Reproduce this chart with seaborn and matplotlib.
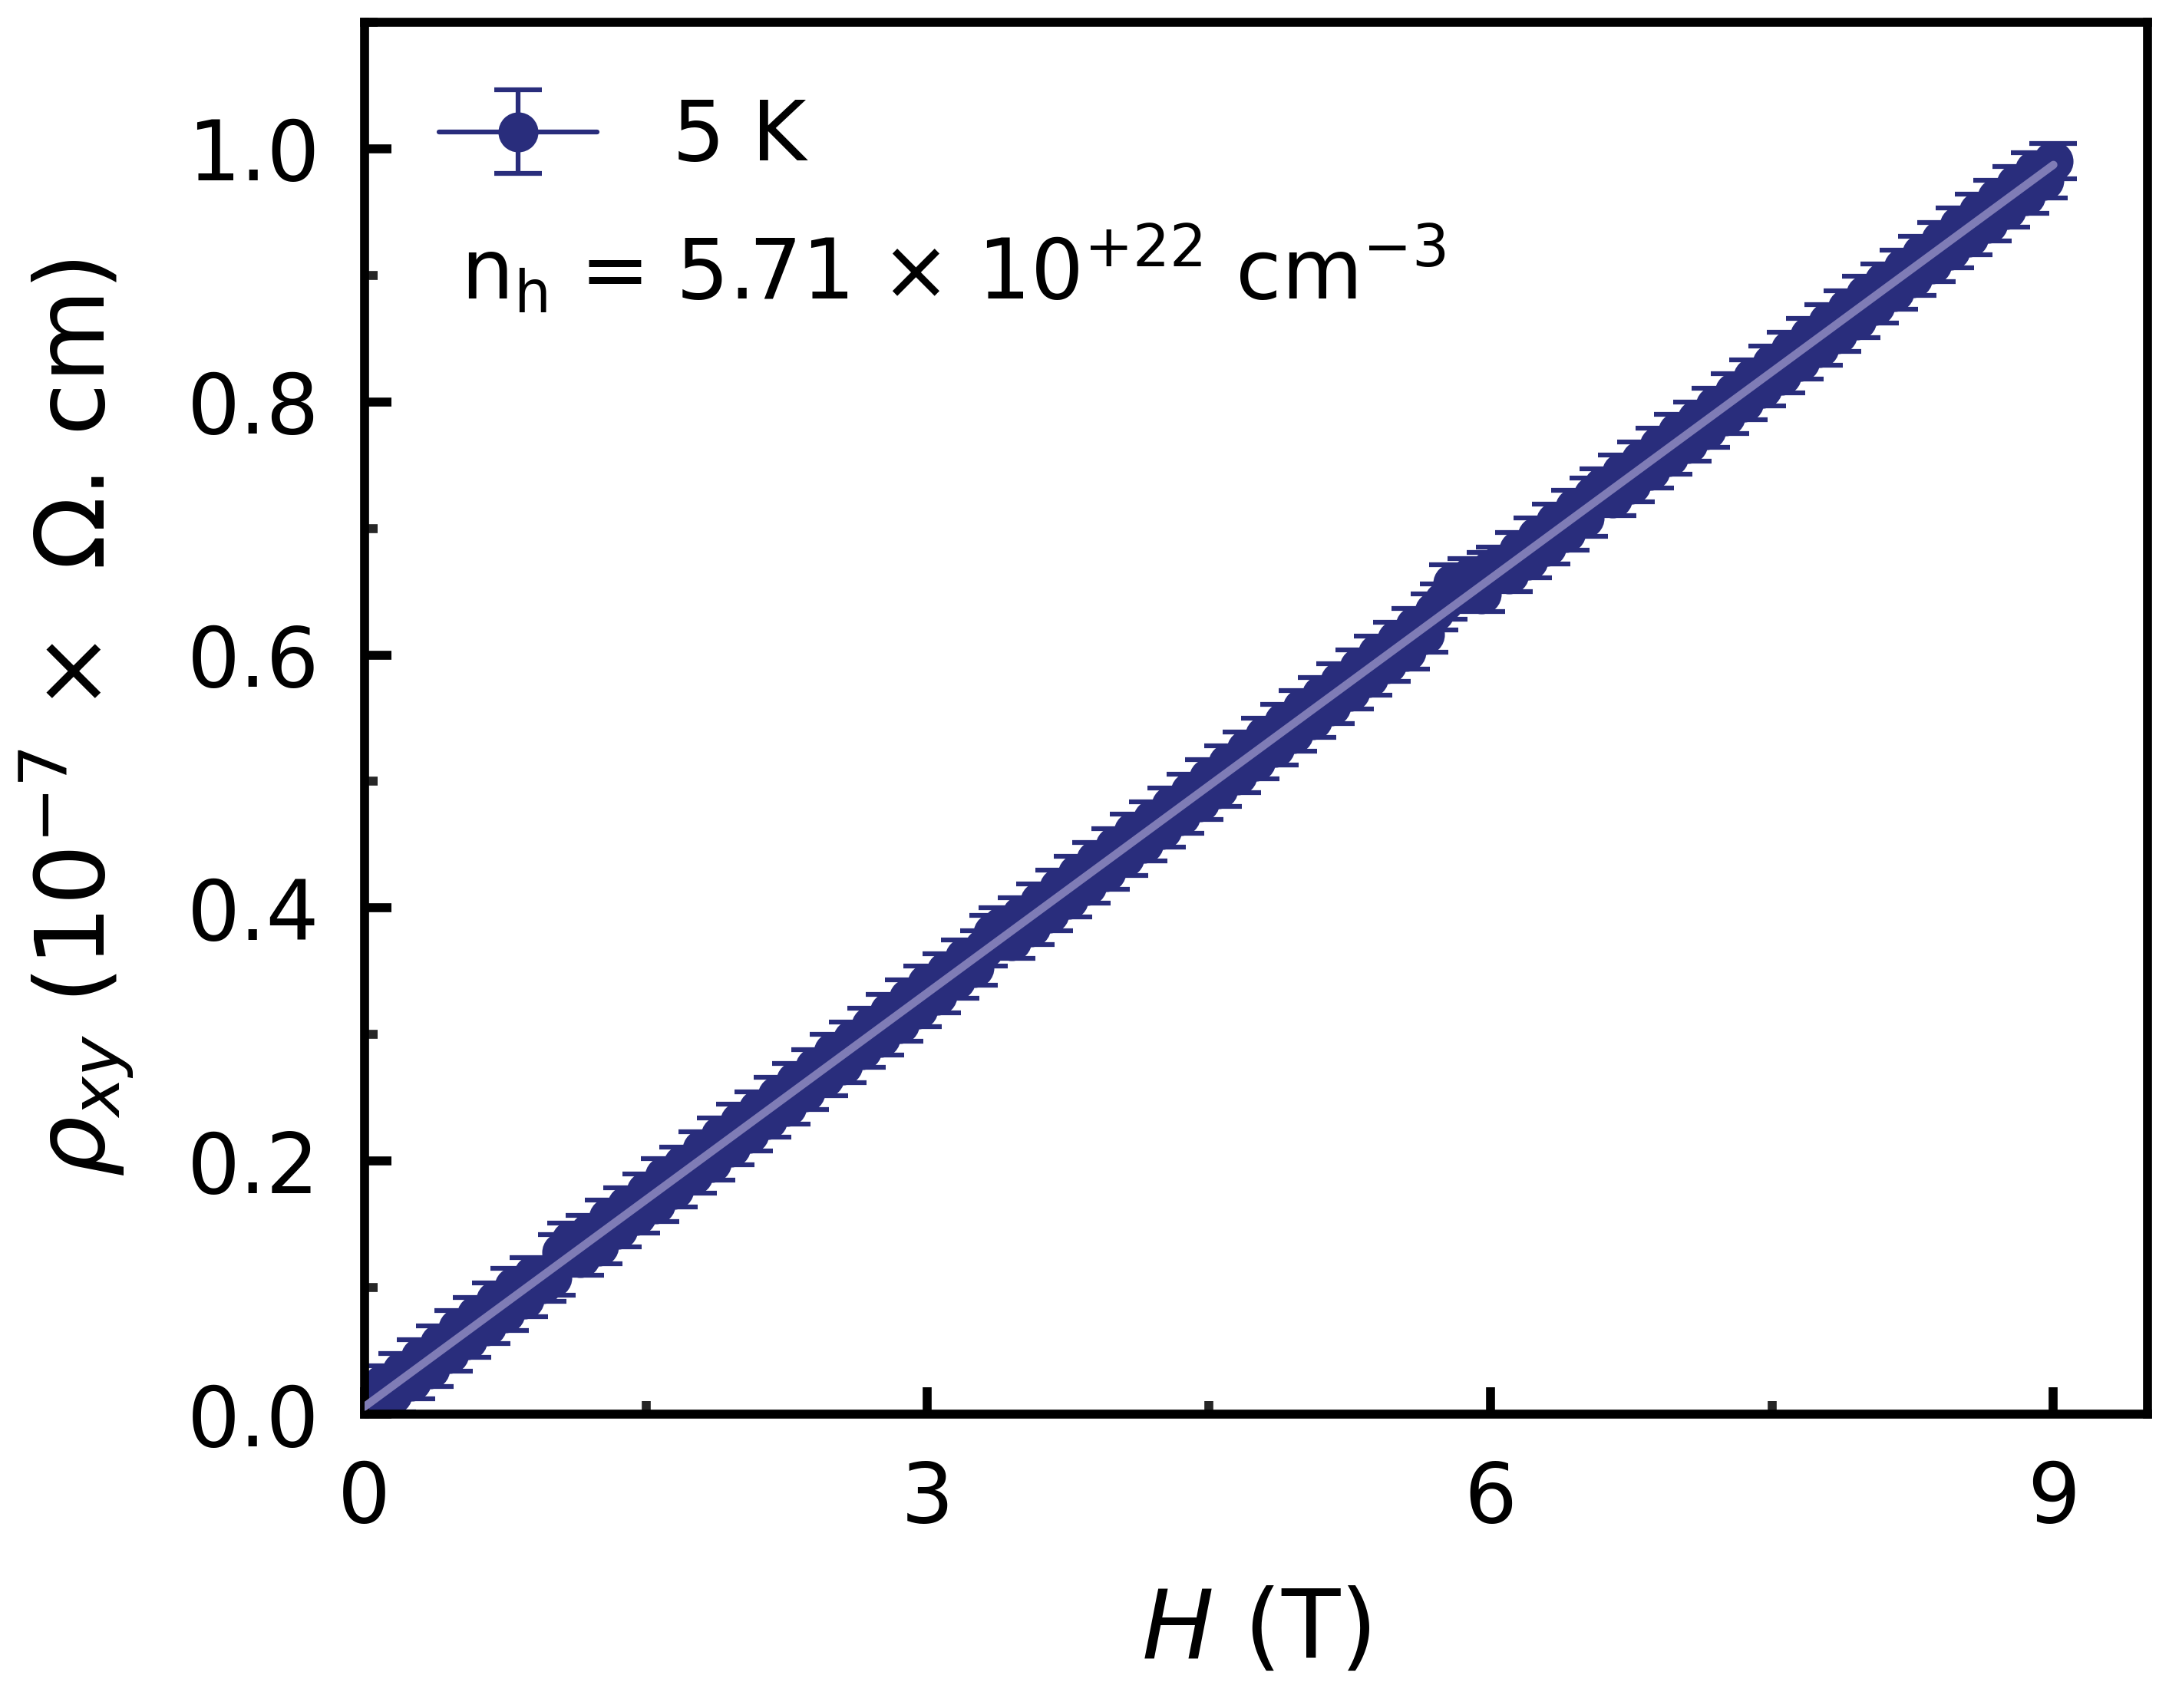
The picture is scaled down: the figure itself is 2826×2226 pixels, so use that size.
import numpy as np
import pandas as pd
import matplotlib
matplotlib.use("Agg")
import matplotlib.pyplot as plt
import seaborn as sns
from matplotlib.ticker import MultipleLocator

# ---- data ----
field_T = [0.00, 0.05, 0.10, 0.15, 0.20, 0.25, 0.30, 0.35, 0.40, 0.45,
           0.50, 0.55, 0.60, 0.65, 0.70, 0.75, 0.80, 0.85, 0.90, 0.95,
           1.00, 1.05, 1.10, 1.15, 1.20, 1.25, 1.30, 1.35, 1.40, 1.45,
           1.50, 1.55, 1.60, 1.65, 1.70, 1.75, 1.80, 1.85, 1.90, 1.95,
           2.00, 2.05, 2.10, 2.15, 2.20, 2.25, 2.30, 2.35, 2.40, 2.45,
           2.50, 2.55, 2.60, 2.65, 2.70, 2.75, 2.80, 2.85, 2.90, 2.95,
           3.00, 3.05, 3.10, 3.15, 3.20, 3.25, 3.30, 3.35, 3.40, 3.45,
           3.50, 3.55, 3.60, 3.65, 3.70, 3.75, 3.80, 3.85, 3.90, 3.95,
           4.00, 4.05, 4.10, 4.15, 4.20, 4.25, 4.30, 4.35, 4.40, 4.45,
           4.50, 4.55, 4.60, 4.65, 4.70, 4.75, 4.80, 4.85, 4.90, 4.95,
           5.00, 5.05, 5.10, 5.15, 5.20, 5.25, 5.30, 5.35, 5.40, 5.45,
           5.50, 5.55, 5.60, 5.65, 5.70, 5.75, 5.80, 5.85, 5.90, 5.95,
           6.00, 6.05, 6.10, 6.15, 6.20, 6.25, 6.30, 6.35, 6.40, 6.45,
           6.50, 6.55, 6.60, 6.65, 6.70, 6.75, 6.80, 6.85, 6.90, 6.95,
           7.00, 7.05, 7.10, 7.15, 7.20, 7.25, 7.30, 7.35, 7.40, 7.45,
           7.50, 7.55, 7.60, 7.65, 7.70, 7.75, 7.80, 7.85, 7.90, 7.95,
           8.00, 8.05, 8.10, 8.15, 8.20, 8.25, 8.30, 8.35, 8.40, 8.45,
           8.50, 8.55, 8.60, 8.65, 8.70, 8.75, 8.80, 8.85, 8.90, 8.95,
           9.00]
rho_xy = [0.010, 0.004, 0.024, 0.016, 0.034, 0.026, 0.045, 0.036, 0.056, 0.048,
          0.068, 0.059, 0.078, 0.070, 0.090, 0.080, 0.101, 0.091, 0.110, 0.103,
          0.108, 0.128, 0.137, 0.124, 0.143, 0.133, 0.155, 0.146, 0.165, 0.157,
          0.176, 0.166, 0.188, 0.178, 0.197, 0.189, 0.209, 0.199, 0.220, 0.211,
          0.231, 0.222, 0.241, 0.233, 0.252, 0.243, 0.263, 0.255, 0.274, 0.266,
          0.286, 0.276, 0.296, 0.288, 0.307, 0.298, 0.318, 0.309, 0.329, 0.320,
          0.340, 0.331, 0.350, 0.343, 0.361, 0.353, 0.368, 0.380, 0.386, 0.374,
          0.394, 0.385, 0.405, 0.396, 0.416, 0.407, 0.427, 0.418, 0.438, 0.429,
          0.449, 0.440, 0.460, 0.451, 0.470, 0.462, 0.481, 0.473, 0.492, 0.484,
          0.503, 0.494, 0.514, 0.505, 0.525, 0.516, 0.536, 0.527, 0.547, 0.538,
          0.558, 0.549, 0.568, 0.560, 0.579, 0.571, 0.590, 0.582, 0.601, 0.593,
          0.612, 0.603, 0.623, 0.616, 0.634, 0.642, 0.657, 0.650, 0.662, 0.648,
          0.667, 0.671, 0.664, 0.683, 0.675, 0.694, 0.686, 0.705, 0.697, 0.716,
          0.708, 0.726, 0.733, 0.724, 0.744, 0.735, 0.754, 0.746, 0.765, 0.757,
          0.776, 0.767, 0.786, 0.778, 0.797, 0.789, 0.808, 0.800, 0.819, 0.811,
          0.830, 0.821, 0.841, 0.832, 0.852, 0.843, 0.863, 0.854, 0.874, 0.865,
          0.885, 0.876, 0.895, 0.887, 0.906, 0.898, 0.917, 0.909, 0.928, 0.920,
          0.939, 0.930, 0.950, 0.941, 0.961, 0.952, 0.972, 0.963, 0.983, 0.975,
          0.990]
rho_err = [0.014] * len(field_T)
series_label = "5 K"
annotation = r"$\mathregular{n_h}$ = 5.71 × 10$^{+22}$ cm$^{-3}$"

df = pd.DataFrame({"H": field_T, "rho": rho_xy, "err": rho_err})

# linear fit through the data
coef = np.polyfit(df["H"], df["rho"], 1)
fit_df = pd.DataFrame({"H": [0.0, 9.0]})
fit_df["rho"] = np.polyval(coef, fit_df["H"])

sns.set_theme(style="white")
plt.rcParams["font.family"] = ["DejaVu Sans"]
plt.rcParams["text.color"] = "black"

fig = plt.figure(figsize=(2826 / 300, 2226 / 300), dpi=300)
ax = fig.add_axes([0.168, 0.172, 0.822, 0.815])

dark = "#292d7c"
fitc = "#7f7cb6"

ax.errorbar(df["H"], df["rho"], yerr=df["err"], fmt="-o", color=dark,
            markersize=11.5, linewidth=1.5, elinewidth=1.5, capsize=7.5,
            capthick=1.5, label=series_label, zorder=2)
sns.lineplot(data=fit_df, x="H", y="rho", ax=ax, color=fitc, linewidth=2.5,
             zorder=3, legend=False)

ax.set_xlim(0, 9.5)
ax.set_ylim(0, 1.1)
ax.xaxis.set_major_locator(MultipleLocator(3))
ax.xaxis.set_minor_locator(MultipleLocator(1.5))
ax.yaxis.set_major_locator(MultipleLocator(0.2))
ax.yaxis.set_minor_locator(MultipleLocator(0.1))
ax.tick_params(which="major", direction="in", length=8.5, width=2.8,
               labelsize=26, pad=14, color="black", labelcolor="black",
               left=True, bottom=True, top=False, right=False)
ax.tick_params(which="minor", direction="in", length=4, width=2.8,
               left=True, bottom=True, top=False, right=False)
for s in ax.spines.values():
    s.set_linewidth(2.8)
    s.set_color("black")

ax.set_xlabel(r"$H$ (T)", fontsize=30, labelpad=14, color="black")
ax.set_ylabel(r"$\rho_{xy}$ (10$^{-7}$ ×  Ω. cm)", fontsize=30, labelpad=16,
              color="black")

leg = ax.legend(loc="upper left", frameon=False, fontsize=26,
                handlelength=1.9, handletextpad=0.9, borderaxespad=0.5,
                bbox_to_anchor=(0.0, 1.0))
for t in leg.get_texts():
    t.set_color("black")
ax.text(0.054, 0.822, annotation, transform=ax.transAxes, fontsize=26,
        ha="left", va="center", color="black")

fig.savefig("out.png", dpi=300)
